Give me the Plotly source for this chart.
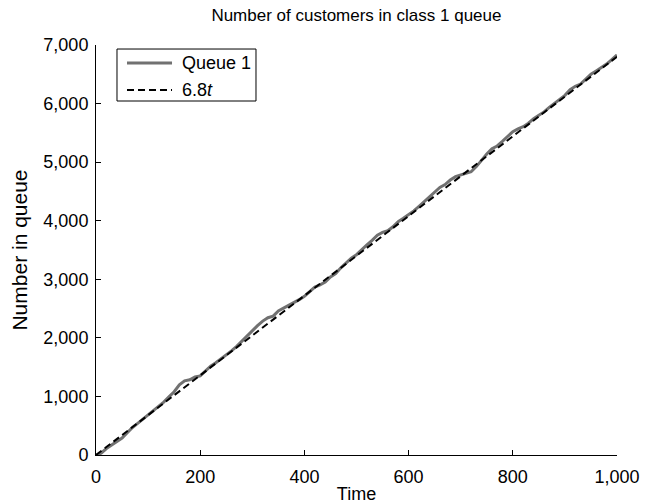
import plotly.graph_objects as go

# Data
time = [0, 10, 20, 30, 40, 50, 60, 70, 80, 90, 100, 110, 120, 130, 140, 150, 160, 170, 180, 190,
        200, 210, 220, 230, 240, 250, 260, 270, 280, 290, 300, 310, 320, 330, 340, 350, 360, 370, 380, 390,
        400, 410, 420, 430, 440, 450, 460, 470, 480, 490, 500, 510, 520, 530, 540, 550, 560, 570, 580, 590,
        600, 610, 620, 630, 640, 650, 660, 670, 680, 690, 700, 710, 720, 730, 740, 750, 760, 770, 780, 790,
        800, 810, 820, 830, 840, 850, 860, 870, 880, 890, 900, 910, 920, 930, 940, 950, 960, 970, 980, 990, 1000]
queue1 = [0, 30, 110, 170, 230, 290, 380, 470, 540, 612, 690, 748, 826, 904, 992, 1080, 1198, 1266, 1284, 1332,
          1350, 1428, 1516, 1574, 1642, 1700, 1778, 1856, 1944, 2042, 2120, 2208, 2286, 2344, 2372, 2460, 2508, 2556, 2594, 2652,
          2710, 2788, 2866, 2904, 2952, 3040, 3098, 3196, 3284, 3362, 3420, 3508, 3586, 3664, 3752, 3800, 3828, 3896, 3984, 4042,
          4100, 4168, 4246, 4324, 4412, 4490, 4568, 4616, 4694, 4752, 4780, 4808, 4836, 4924, 5042, 5140, 5228, 5276, 5354, 5432,
          5520, 5568, 5606, 5664, 5742, 5800, 5858, 5936, 6004, 6082, 6140, 6238, 6296, 6334, 6422, 6500, 6558, 6616, 6674, 6752, 6830]
fit_t = [0, 1000]
fit_y = [0, 6800]
legend_labels = ["Queue 1", "6.8<i>t</i>"]

FONT = "Liberation Sans, Arial, sans-serif"
GRAY = "#717171"
DASH = "7px,4px"

fig = go.Figure()
fig.add_trace(go.Scatter(x=time, y=queue1, mode="lines", name=legend_labels[0],
                         line=dict(color=GRAY, width=3), showlegend=False))
fig.add_trace(go.Scatter(x=fit_t, y=fit_y, mode="lines", name=legend_labels[1],
                         line=dict(color="black", width=2, dash=DASH), showlegend=False))

axis_common = dict(showline=True, linecolor="black", linewidth=1, ticks="inside", ticklen=5,
                   tickcolor="black", showgrid=False, zeroline=False, tickformat=",",
                   tickfont=dict(family=FONT, size=18, color="black"), mirror=False,
                   automargin=False)

# Manual legend box (paper coordinates)
box_x0, box_x1, box_y0, box_y1 = 0.0403, 0.3071, 0.8634, 0.9902
row_y = [0.956, 0.8902]
ln_x0, ln_x1, txt_x = 0.0595, 0.1459, 0.1612

shapes = [dict(type="rect", xref="paper", yref="paper", x0=box_x0, x1=box_x1, y0=box_y0, y1=box_y1,
               line=dict(color="black", width=1), fillcolor="white", layer="above")]
shapes.append(dict(type="line", xref="paper", yref="paper", x0=ln_x0, x1=ln_x1, y0=row_y[0], y1=row_y[0],
                   line=dict(color=GRAY, width=3), layer="above"))
shapes.append(dict(type="line", xref="paper", yref="paper", x0=ln_x0, x1=ln_x1, y0=row_y[1], y1=row_y[1],
                   line=dict(color="black", width=2, dash=DASH), layer="above"))
annotations = [dict(xref="paper", yref="paper", x=txt_x, y=ry, text=lab, showarrow=False,
                    xanchor="left", yanchor="middle", font=dict(family=FONT, size=18, color="black"))
               for ry, lab in zip(row_y, legend_labels)]

fig.update_layout(
    width=651, height=504,
    margin=dict(l=96, r=34, t=45, b=49),
    paper_bgcolor="white", plot_bgcolor="white",
    font=dict(family=FONT, size=18, color="black"),
    title=dict(text="Number of customers in class 1 queue", x=0.5475, xanchor="center",
               y=0.97, yanchor="middle", font=dict(family=FONT, size=17, color="black")),
    xaxis=dict(range=[0, 1000], dtick=200, tick0=0, ticklabelstandoff=5,
               title=dict(text="Time", standoff=6, font=dict(family=FONT, size=18)), **axis_common),
    yaxis=dict(range=[0, 7000], dtick=1000, tick0=0, ticklabelstandoff=3,
               title=dict(text="Number in queue", standoff=10, font=dict(family=FONT, size=21)), **axis_common),
    shapes=shapes,
    annotations=annotations,
    showlegend=False,
)

fig.write_html("out.html")
